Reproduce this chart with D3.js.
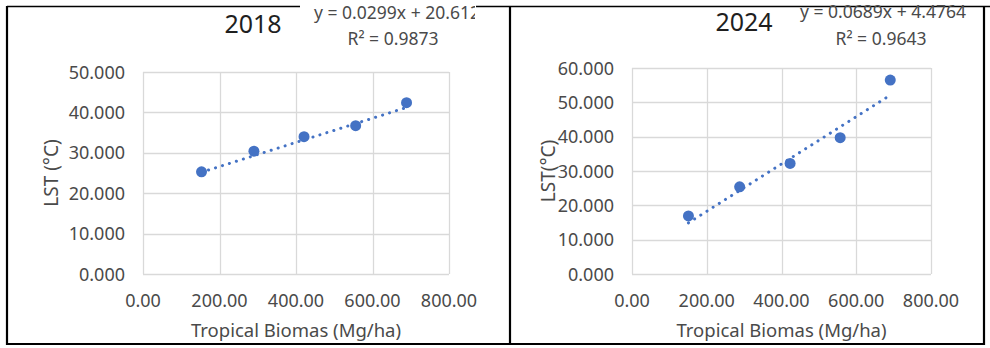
<!DOCTYPE html>
<html>
<head>
<meta charset="utf-8">
<script src="https://cdn.jsdelivr.net/npm/d3@7"></script>
<style>
  body { margin: 0; background: #fff; }
  text { font-family: "Noto Sans", "Open Sans", sans-serif; }
</style>
</head>
<body>
<svg id="chart"></svg>
<script>
// data
const biomass2018 = [153, 290, 421, 556, 689];
const lst2018 = [25.3, 30.4, 34.0, 36.7, 42.4];
const biomass2024 = [151, 288, 423, 557, 691];
const lst2024 = [16.9, 25.4, 32.2, 39.7, 56.5];

const fit2018 = { slope: 0.0299, intercept: 20.612, r2: "0.9873" };
const fit2024 = { slope: 0.0689, intercept: 4.4764, r2: "0.9643" };

const xTicks = [0, 200, 400, 600, 800];
const yTicks2018 = [0, 10, 20, 30, 40, 50];
const yTicks2024 = [0, 10, 20, 30, 40, 50, 60];

const width = 990;
const height = 348;
const blue = "#4472C4";
const grey = "#4a4a4a";

const svg = d3.select("#chart").attr("width", width).attr("height", height);
svg.append("rect").attr("width", width).attr("height", height).attr("fill", "white");

// table borders around the two figures
const borders = [
  [7, 6.5, 300, 6.5],
  [476, 6.5, 990, 6.5],
  [7, 6, 7, 345],
  [510, 6, 510, 345],
  [984, 6, 984, 345],
  [6, 344, 985, 344],
];
svg.selectAll(".border")
  .data(borders)
  .join("line")
  .attr("class", "border")
  .attr("x1", (d) => d[0])
  .attr("y1", (d) => d[1])
  .attr("x2", (d) => d[2])
  .attr("y2", (d) => d[3])
  .attr("stroke", "black")
  .attr("stroke-width", (d, i) => (i < 2 ? 1.5 : 2.2));

const scatter = (g, opts) => {
  const x = d3.scaleLinear().domain([0, 800]).range([opts.left, opts.right]);
  const y = d3
    .scaleLinear()
    .domain([0, d3.max(opts.yTicks)])
    .range([opts.bottom, opts.top]);

  // gridlines
  g.selectAll(".hgrid")
    .data(opts.yTicks)
    .join("line")
    .attr("class", "hgrid")
    .attr("x1", opts.left)
    .attr("x2", opts.right)
    .attr("y1", (d) => Math.round(y(d)) + 0.5)
    .attr("y2", (d) => Math.round(y(d)) + 0.5)
    .attr("stroke", "#d9d9d9")
    .attr("stroke-width", 1.3);

  g.selectAll(".vgrid")
    .data(xTicks)
    .join("line")
    .attr("class", "vgrid")
    .attr("y1", opts.top)
    .attr("y2", opts.bottom)
    .attr("x1", (d) => Math.round(x(d)) + 0.5)
    .attr("x2", (d) => Math.round(x(d)) + 0.5)
    .attr("stroke", "#d9d9d9")
    .attr("stroke-width", 1.3);

  // tick labels
  g.selectAll(".ylab")
    .data(opts.yTicks)
    .join("text")
    .attr("class", "ylab")
    .attr("x", opts.left - 18)
    .attr("y", (d) => y(d) + 6.5)
    .attr("text-anchor", "end")
    .attr("font-size", 18)
    .attr("fill", grey)
    .text((d) => d3.format(".3f")(d));

  g.selectAll(".xlab")
    .data(xTicks)
    .join("text")
    .attr("class", "xlab")
    .attr("x", (d) => x(d))
    .attr("y", 307)
    .attr("text-anchor", "middle")
    .attr("font-size", 18)
    .attr("fill", grey)
    .text((d) => d3.format(".2f")(d));

  // trendline
  const xs = d3.extent(opts.xs);
  const line = d3.line().x((d) => x(d)).y((d) => y(opts.fit.slope * d + opts.fit.intercept));
  g.append("path")
    .attr("d", line(xs))
    .attr("fill", "none")
    .attr("stroke", blue)
    .attr("stroke-width", 3)
    .attr("stroke-linecap", "round")
    .attr("stroke-dasharray", "0.1 7.2");

  // points
  g.selectAll(".pt")
    .data(opts.xs.map((d, i) => ({ x: d, y: opts.ys[i] })))
    .join("circle")
    .attr("class", "pt")
    .attr("cx", (d) => x(d.x))
    .attr("cy", (d) => y(d.y))
    .attr("r", 5.5)
    .attr("fill", blue);

  // axis titles
  const midY = (opts.top + opts.bottom) / 2;
  g.append("text")
    .attr("transform", `translate(${opts.yTitleX},${midY}) rotate(-90)`)
    .attr("text-anchor", "middle")
    .attr("dy", "0.35em")
    .attr("font-size", 19)
    .attr("fill", grey)
    .text(opts.yTitle);

  g.append("text")
    .attr("x", (opts.left + opts.right) / 2)
    .attr("y", 337)
    .attr("text-anchor", "middle")
    .attr("font-size", 18.5)
    .attr("fill", grey)
    .text("Tropical Biomas (Mg/ha)");

  // chart title
  g.append("text")
    .attr("x", opts.titleX)
    .attr("y", opts.titleY)
    .attr("text-anchor", "middle")
    .attr("font-size", 25)
    .attr("fill", "#1f1f1f")
    .text(opts.title);

  // trendline label
  const eq = g.append("g").attr("clip-path", opts.clip ? `url(#${opts.clip})` : null);
  eq.append("text")
    .attr("x", opts.eqX)
    .attr("y", opts.eqY)
    .attr("text-anchor", "middle")
    .attr("font-size", 17.5)
    .attr("fill", grey)
    .text(`y = ${opts.fit.slope}x + ${opts.fit.intercept}`);
  g.append("text")
    .attr("x", opts.r2X)
    .attr("y", 45)
    .attr("text-anchor", "middle")
    .attr("font-size", 17.5)
    .attr("fill", grey)
    .text(`R² = ${opts.fit.r2}`);
};

svg.append("clipPath")
  .attr("id", "clipLeft")
  .append("rect")
  .attr("x", 0)
  .attr("y", 0)
  .attr("width", 475)
  .attr("height", height);

scatter(svg.append("g"), {
  xs: biomass2018,
  ys: lst2018,
  fit: fit2018,
  yTicks: yTicks2018,
  left: 143,
  right: 449,
  top: 72,
  bottom: 274,
  yTitle: "LST (°C)",
  yTitleX: 51,
  title: "2018",
  titleX: 253,
  titleY: 33,
  eqX: 397,
  eqY: 19,
  r2X: 393,
  clip: "clipLeft",
});

scatter(svg.append("g"), {
  xs: biomass2024,
  ys: lst2024,
  fit: fit2024,
  yTicks: yTicks2024,
  left: 632,
  right: 931,
  top: 68,
  bottom: 274,
  yTitle: "LST(°C)",
  yTitleX: 548,
  title: "2024",
  titleX: 744,
  titleY: 31,
  eqX: 883,
  eqY: 18,
  r2X: 881,
});
</script>
</body>
</html>
